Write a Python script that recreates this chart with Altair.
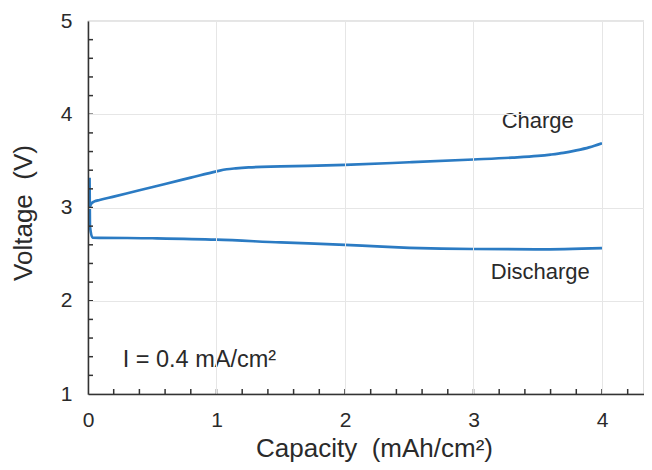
import altair as alt
import pandas as pd

# Data
charge_x = [0.012, 0.025, 0.05, 0.09, 0.2, 0.4, 0.6, 0.8, 1.0, 1.08, 1.15, 1.25, 1.5, 2.0, 2.5, 3.0,
            3.3, 3.5, 3.6, 3.7, 3.8, 3.9, 4.0]
charge_y = [3.0, 3.04, 3.065, 3.08, 3.117, 3.185, 3.252, 3.32, 3.388, 3.41, 3.42, 3.43, 3.44, 3.457,
            3.485, 3.515, 3.535, 3.553, 3.567, 3.585, 3.612, 3.645, 3.69]
discharge_x = [0.012, 0.015, 0.035, 0.5, 1.0, 1.5, 2.0, 2.25, 2.5, 2.75, 3.0, 3.5, 4.0]
discharge_y = [3.32, 2.8, 2.678, 2.67, 2.655, 2.625, 2.6, 2.583, 2.568, 2.559, 2.555, 2.552, 2.565]

x_ticks = [0, 1, 2, 3, 4]
y_ticks = [1, 2, 3, 4, 5]
x_minor = [0.2, 0.4, 0.6, 0.8, 1.0, 1.2, 1.4, 1.6, 1.8, 2.0, 2.2, 2.4, 2.6, 2.8, 3.0,
           3.2, 3.4, 3.6, 3.8, 4.0, 4.2]
y_minor = [1.2, 1.4, 1.6, 1.8, 2.0, 2.2, 2.4, 2.6, 2.8, 3.0, 3.2, 3.4, 3.6, 3.8,
           4.0, 4.2, 4.4, 4.6, 4.8]

labels = ["Charge", "Discharge"]
label_x = [3.5, 3.52]
label_y = [3.93, 2.31]
note_text = ["I = 0.4 mA/cm²"]
note_x = [0.27]
note_y = [1.36]

FONT = "Liberation Sans"
LINE = "#2b7bc3"
TXT = "#2a2a2a"
W, H = 556, 373
SP = "\u00a0\u00a0"

rows = []
for i, (x, y) in enumerate(zip(charge_x, charge_y)):
    rows.append({"cap": x, "v": y, "series": "Charge", "o": i})
for i, (x, y) in enumerate(zip(discharge_x, discharge_y)):
    rows.append({"cap": x, "v": y, "series": "Discharge", "o": i})
df = pd.DataFrame(rows)

xs = alt.Scale(domain=[0, 4.327], nice=False, zero=False)
ys = alt.Scale(domain=[1, 5], nice=False, zero=False)

xax = alt.Axis(values=x_ticks, grid=True, gridColor="#e6e6e6", ticks=False,
               labelFont=FONT, labelFontSize=21, labelColor=TXT, labelPadding=15,
               labelFlush=False,
               title="Capacity" + SP + "(mAh/cm²)", titleFont=FONT, titleFontSize=26,
               titleFontWeight="normal", titleColor=TXT,
               titleX=286, titleY=62, titleBaseline="alphabetic",
               domainColor="#333", domainWidth=1.5, zindex=1, format="d")
yax = alt.Axis(values=y_ticks, grid=True, gridColor="#e6e6e6", ticks=False,
               labelFont=FONT, labelFontSize=21, labelColor=TXT, labelPadding=16,
               labelFlush=False,
               title="Voltage" + SP + "(V)", titleFont=FONT, titleFontSize=26,
               titleFontWeight="normal", titleColor=TXT, titlePadding=24,
               titleY=191.5,
               domainColor="#333", domainWidth=1.5, zindex=1, format="d")

lines = alt.Chart(df).mark_line(strokeWidth=2.7, color=LINE, interpolate="monotone").encode(
    x=alt.X("cap:Q", scale=xs, axis=xax),
    y=alt.Y("v:Q", scale=ys, axis=yax),
    detail="series:N",
    order="o:Q",
)

xt = alt.Chart(pd.DataFrame({"t": x_minor})).mark_rule(color="#333", strokeWidth=1.5).encode(
    x=alt.X("t:Q", scale=xs), y=alt.value(H), y2=alt.value(H - 5))
yt = alt.Chart(pd.DataFrame({"t": y_minor})).mark_rule(color="#333", strokeWidth=1.5).encode(
    y=alt.Y("t:Q", scale=ys), x=alt.value(0), x2=alt.value(5))

lab = alt.Chart(pd.DataFrame({"t": labels, "x": label_x, "y": label_y})).mark_text(
    font=FONT, fontSize=22, color=TXT, align="center", baseline="middle").encode(
    x=alt.X("x:Q", scale=xs), y=alt.Y("y:Q", scale=ys), text="t:N")

note = alt.Chart(pd.DataFrame({"t": note_text, "x": note_x, "y": note_y})).mark_text(
    font=FONT, fontSize=23.5, color=TXT, align="left", baseline="middle").encode(
    x=alt.X("x:Q", scale=xs), y=alt.Y("y:Q", scale=ys), text="t:N")

chart = alt.layer(lines, xt, yt, lab, note).properties(
    width=W, height=H,
    padding={"left": 80, "top": 13, "right": 0, "bottom": 68},
    autosize="none",
).configure_view(stroke="#999", strokeWidth=1.2)

chart.save("out.html", embed_options={"renderer": "svg", "actions": False})
